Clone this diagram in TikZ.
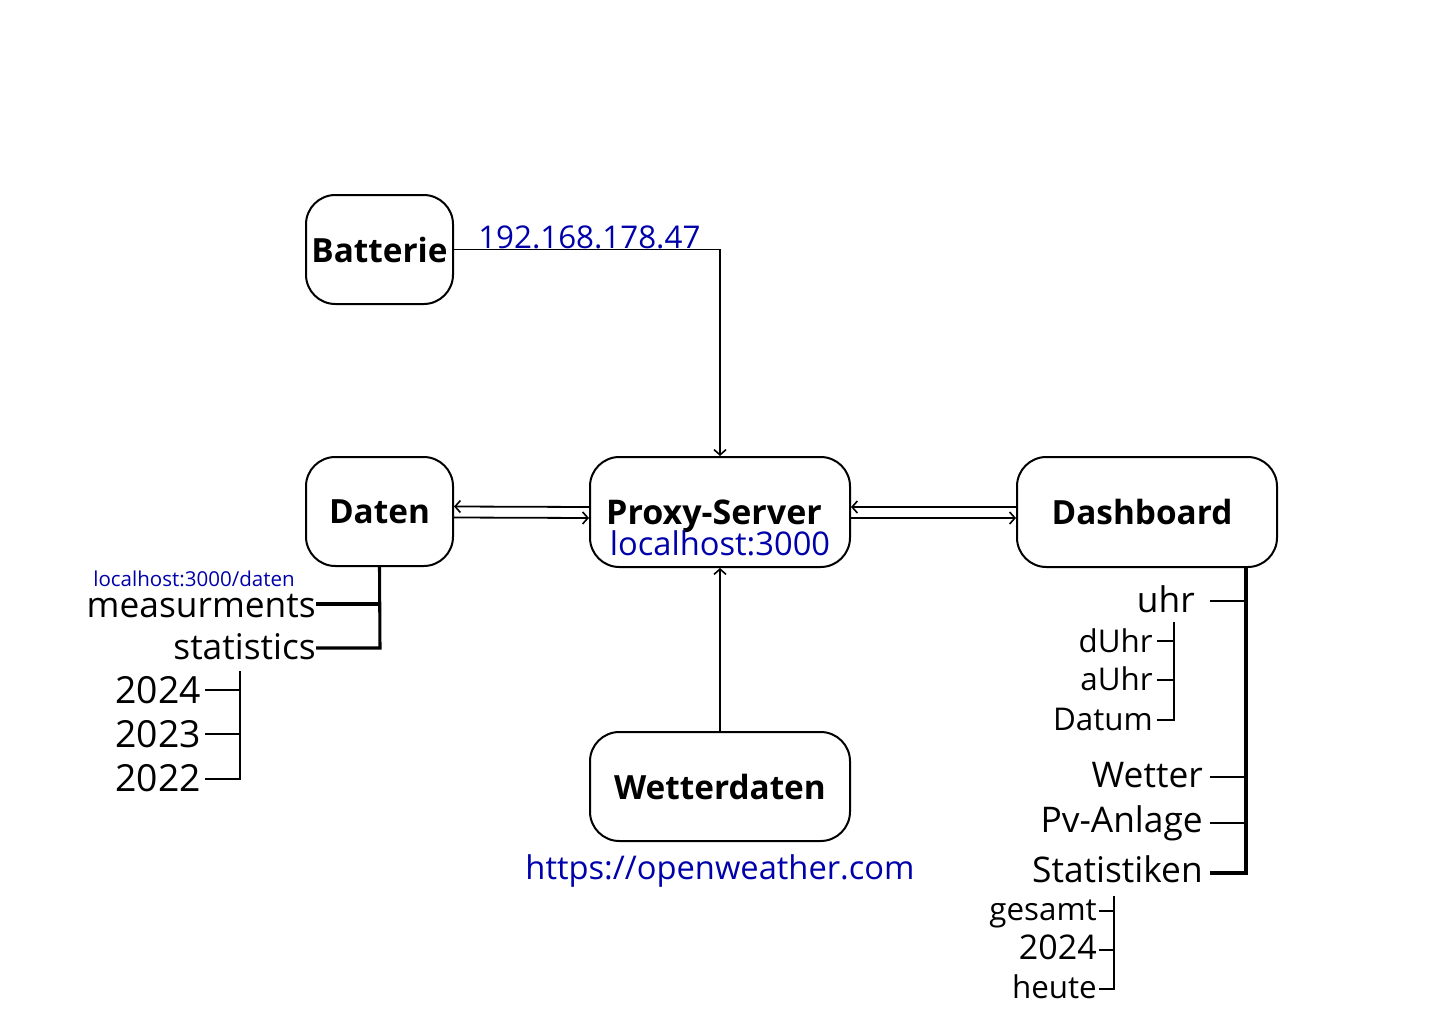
\documentclass[tikz,border=0pt]{standalone}
\usepackage{fontspec}
\setmainfont{Open Sans}
\usetikzlibrary{arrows.meta}
\definecolor{linkblue}{RGB}{0,0,170}
\tikzset{
  box/.style={draw=black, line width=1.5pt, rounded corners=22pt, fill=white, inner sep=0pt,
              font=\fontsize{25}{30}\selectfont\bfseries},
  arr/.style={draw=black, line width=1.35pt, -{Straight Barb[length=4pt,width=9pt,line width=1.2pt]}},
  plainline/.style={draw=black, line width=1.2pt},
  thickline/.style={draw=black, line width=2.3pt},
  thinline/.style={draw=black, line width=0.9pt},
  lbl/.style={inner sep=0pt, anchor=base east, font=\fontsize{26.5}{30}\selectfont},
  sublbl/.style={inner sep=0pt, anchor=base east, font=\fontsize{23.5}{26}\selectfont},
  bluelbl/.style={inner sep=0pt, text=linkblue, font=\fontsize{24.5}{28}\selectfont},
}
\begin{document}
\begin{tikzpicture}[x=0.75pt,y=-0.75pt]
\useasboundingbox (0,0) rectangle (1440,1024);

% boxes
\node[box, minimum width=110.25pt, minimum height=81.75pt] (bat) at (379.5,249.5) {Batterie};
\node[box, minimum width=110.25pt, minimum height=81.75pt] (dat) at (379.5,511.5) {Daten};
\node[box, minimum width=195pt, minimum height=82.5pt] (prox) at (720,512) {};
\node[box, minimum width=195pt, minimum height=82.5pt] (dash) at (1147,512) {};
\node[box, minimum width=195pt, minimum height=81.75pt] (wet) at (720,786.5) {Wetterdaten};

\node[inner sep=0pt, anchor=base, font=\fontsize{25.5}{30}\selectfont\bfseries] (proxt) at (714,524) {Proxy-Server};
\node[bluelbl, anchor=base] (proxl) at (720,555) {localhost:3000};
\node[inner sep=0pt, anchor=base, font=\fontsize{25}{30}\selectfont\bfseries] (dasht) at (1142,524) {Dashboard};

% connectors
\draw[arr] (bat.east) -| (prox.north);
\node[bluelbl, anchor=base west, font=\fontsize{23.5}{28}\selectfont] (ip) at (478,248) {192.168.178.47};
\draw[arr] ([yshift=3.75pt]prox.west) -- ([yshift=3.75pt]dat.east);
\draw[arr] ([yshift=-4.5pt]dat.east) -- ([yshift=-4.5pt]prox.west);
\draw[arr] ([yshift=3.75pt]dash.west) -- ([yshift=3.75pt]prox.east);
\draw[arr] ([yshift=-4.5pt]prox.east) -- ([yshift=-4.5pt]dash.west);
\draw[arr] (wet.north) -- (prox.south);
\node[bluelbl, anchor=base] (owm) at (720,879) {https://openweather.com};

% Daten tree
\node[bluelbl, anchor=base east, font=\fontsize{15.4}{18}\selectfont] (dl) at (295,586) {localhost:3000/daten};
\node[lbl] (meas) at (316,617) {measurments};
\node[lbl] (stat) at (316,659) {statistics};
\coordinate (dA) at (380,604);
\coordinate (dB) at (380,648);
\draw[thickline] (dat.south) -- (dB) -- (316,648);
\draw[thickline] (dA) -- (316,604);
\node[lbl, font=\fontsize{28}{30}\selectfont] (y24) at (201,703) {2024};
\node[lbl, font=\fontsize{28}{30}\selectfont] (y23) at (201,747) {2023};
\node[lbl, font=\fontsize{28}{30}\selectfont] (y22) at (201,791) {2022};
\coordinate (yT) at (240,671);
\coordinate (yB) at (240,779);
\draw[plainline] (yT) -- (yB) -- (205,779);
\draw[plainline] (240,690) -- (205,690);
\draw[plainline] (240,734) -- (205,734);

% Dashboard tree
\coordinate (dsB) at (1246,873);
\draw[thickline] (1246,567) -- (dsB) -- (1210,873);
\draw[plainline] (1246,601) -- (1210,601);
\draw[plainline] (1246,777) -- (1210,777);
\draw[plainline] (1246,823) -- (1210,823);
\node[lbl] (uhr) at (1195,612) {uhr};
\node[lbl] (wett) at (1203,787) {Wetter};
\node[lbl] (pv) at (1203,832) {Pv-Anlage};
\node[lbl] (stk) at (1203,882) {Statistiken};

\node[sublbl] (duhr) at (1153,652) {dUhr};
\node[sublbl] (auhr) at (1153,690) {aUhr};
\node[sublbl] (datum) at (1153,730) {Datum};
\coordinate (uT) at (1174,622);
\coordinate (uB) at (1174,720);
\draw[thinline] (uT) -- (uB) -- (1157,720);
\draw[thinline] (1174,641) -- (1157,641);
\draw[thinline] (1174,680) -- (1157,680);

\node[sublbl] (ges) at (1097,920) {gesamt};
\node[sublbl, font=\fontsize{25.5}{28}\selectfont] (s24) at (1097,959) {2024};
\node[sublbl] (heute) at (1097,998) {heute};
\coordinate (sT) at (1114,896);
\coordinate (sB) at (1114,989);
\draw[thinline] (sT) -- (sB) -- (1099,989);
\draw[thinline] (1114,911) -- (1099,911);
\draw[thinline] (1114,950) -- (1099,950);
\end{tikzpicture}
\end{document}
